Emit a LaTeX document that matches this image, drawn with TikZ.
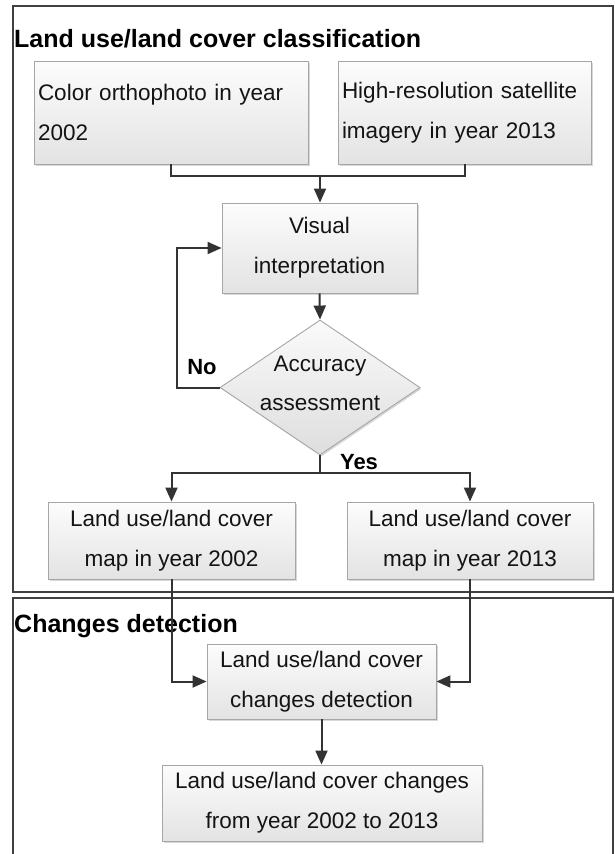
\documentclass[tikz,border=0pt]{standalone}
\usepackage{fontspec}
\setmainfont{Liberation Sans}
\usetikzlibrary{arrows.meta,shapes.geometric,shadows,calc}
\begin{document}
\begin{tikzpicture}[x=1pt,y=-1pt,
  box/.style={draw=gray!70, line width=0.9pt, top color=gray!2, bottom color=gray!22,
    drop shadow={shadow xshift=1.5pt, shadow yshift=-1.5pt, fill=gray!60, opacity=0.5},
    font=\fontsize{22.5}{40}\selectfont, text=black!92, inner sep=0pt, align=center},
  frame/.style={draw=black!75, line width=2pt},
  grouptitle/.style={font=\fontsize{25}{30}\selectfont\bfseries, text=black, inner sep=0pt, anchor=base west},
  lbl/.style={font=\fontsize{22}{26}\selectfont\bfseries, text=black, inner sep=0pt},
  line/.style={draw=black!80, line width=2pt},
  arrow/.style={line, -{Triangle[length=14pt,width=12pt]}}
]
\useasboundingbox (0,0) rectangle (614,854);
\fill[white] (0,0) rectangle (614,854);

% frames
\draw[frame] (13,6) rectangle (613,592);
\draw[frame] (13,598) rectangle (613,880);
\node[grouptitle] (t1) at (14,47) {Land use/land cover classification};
\node[grouptitle] (t2) at (14,632) {Changes detection};

% boxes
\node[box, minimum width=274pt, minimum height=103pt, text width=266pt, align=left] (A) at (171,112.5)
  {Color orthophoto in year\\2002};
\node[box, minimum width=253pt, minimum height=103pt, text width=245pt, align=left] (B) at (464.5,112.5)
  {High-resolution satellite\\imagery in year 2013};
\node[box, minimum width=195pt, minimum height=90pt] (C) at (319.5,248)
  {Visual\\interpretation};
\node[diamond, draw=gray!70, line width=0.9pt, top color=gray!4, bottom color=gray!26,
    drop shadow={shadow xshift=1.5pt, shadow yshift=-1.5pt, fill=gray!60, opacity=0.5},
    minimum width=200pt, minimum height=135pt, inner sep=0pt] (acc) at (320,387.5) {};
\node[font=\fontsize{22.5}{39}\selectfont, text=black!92, align=center, inner sep=0pt] (acctext) at (320,383)
  {Accuracy\\assessment};
\node[box, minimum width=247pt, minimum height=77pt] (mapA) at (171.5,540.5)
  {Land use/land cover\\map in year 2002};
\node[box, minimum width=246pt, minimum height=77pt] (mapB) at (470,540.5)
  {Land use/land cover\\map in year 2013};
\node[box, minimum width=229pt, minimum height=75pt] (F) at (321.5,681.5)
  {Land use/land cover\\changes detection};
\node[box, minimum width=320pt, minimum height=76pt] (G) at (322,803)
  {Land use/land cover changes\\from year 2002 to 2013};

% connectors
\coordinate (m) at (320,176);
\draw[line] (A.south) |- (m);
\draw[line] (B.south) |- (m);
\draw[arrow] (m) -- (m |- C.north);
\draw[arrow] (C.south) -- (acc.north);
\draw[arrow] (acc.west) -- ++(-43,0) |- (C.west);
\node[lbl] (no) at (202,367) {No};
\coordinate (y) at (320,473);
\draw[line] (acc.south) -- (y);
\draw[arrow] (y) -| (mapA.north);
\draw[arrow] (y) -| (mapB.north);
\node[lbl] (yes) at (359,462) {Yes};
\draw[arrow] (mapA.south) |- (F.west);
\draw[arrow] (mapB.south) |- (F.east);
\draw[arrow] (F.south) -- (F.south |- G.north);
\end{tikzpicture}
\end{document}
